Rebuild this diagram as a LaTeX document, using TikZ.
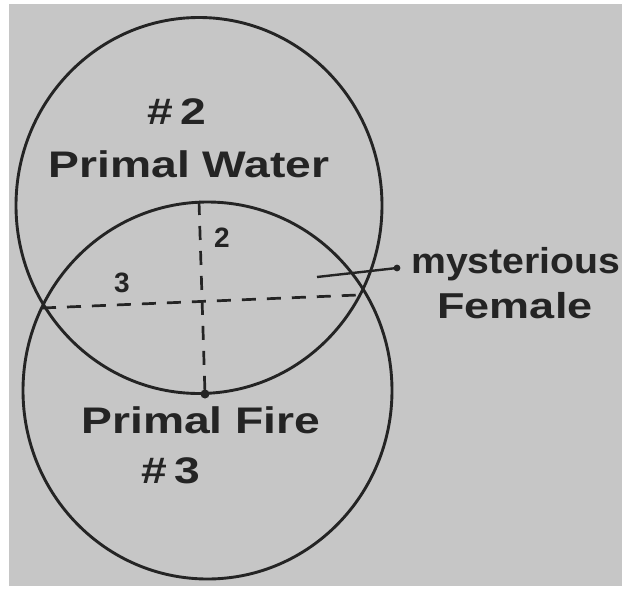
\documentclass[tikz,border=0pt]{standalone}
\usepackage{fontspec}
\usetikzlibrary{shapes.geometric}
\newfontfamily\hand{Liberation Sans}
\definecolor{paper}{RGB}{198,198,198}
\definecolor{ink}{RGB}{36,36,36}
\begin{document}
\begin{tikzpicture}[x=1pt,y=-1pt,
  ring/.style={draw=ink, line width=2.9pt, ellipse, inner sep=0pt},
  dashline/.style={draw=ink, line width=2.7pt, dash pattern=on 14pt off 11pt},
  lbl/.style={text=ink, inner sep=0pt, font=\hand\bfseries\fontsize{37}{40}\selectfont, xscale=1.25},
  small/.style={text=ink, inner sep=0pt, font=\hand\bfseries\fontsize{28}{30}\selectfont}]
\useasboundingbox (0,0) rectangle (622,592);
\fill[white] (0,0) rectangle (622,592);
\fill[paper] (9,4) rectangle (622,586);
% circles
\node[ring, minimum width=366pt, minimum height=376pt] (water) at (199,205.5) {};
\node[ring, minimum width=369pt, minimum height=377pt] (fire) at (207.5,390.5) {};
% key points
\coordinate (L) at (42,308);
\coordinate (R) at (358,295);
\coordinate (T) at (199,201);
\coordinate (B) at (205,394);
\draw[dashline] (L) -- (R);
\draw[dashline] (T) -- (B);
\fill[ink] (B) circle (4.5pt);
% labels
\node[lbl] (n2) at (177,112) {\#\,2};
\node[lbl, anchor=base] (pw) at (189,177) {Primal Water};
\node[lbl, anchor=base] (pf) at (201,433) {Primal Fire};
\node[lbl] (n3) at (171,471) {\#\,3};
\node[small] (two) at (222,238) {2};
\node[small] (three) at (122,283) {3};
% mysterious female
\node[text=ink, inner sep=0pt, font=\hand\bfseries\fontsize{36}{40}\selectfont, xscale=1.09, anchor=base west] (mys) at (411,273) {mysterious};
\node[text=ink, inner sep=0pt, font=\hand\bfseries\fontsize{36}{40}\selectfont, xscale=1.25, anchor=base] (fem) at (515,318) {Female};
\coordinate (p0) at (317,277);
\coordinate (p1) at (397,268);
\draw[ink, line width=2.4pt] (p0) -- (p1);
\fill[ink] (p1) circle (3.4pt);
\end{tikzpicture}
\end{document}
